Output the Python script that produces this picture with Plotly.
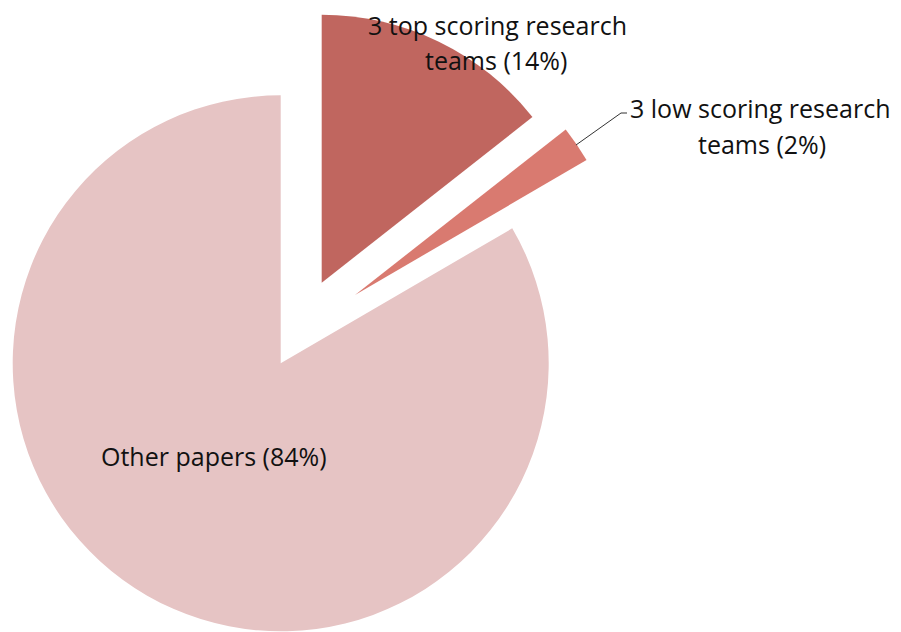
import plotly.graph_objects as go

# slice data, in drawing order (clockwise from 12 o'clock)
categories = ["3 top scoring research teams", "3 low scoring research teams", "Other papers"]
values = [14.4, 2.2, 83.4]
percents = ["14%", "2%", "84%"]
colors = ["#C0665F", "#D97A70", "#E6C4C4"]

W, H = 901, 632
R = 268  # pie radius in px
PAGE = 8  # default body margin of the html page

# exploded slice centres (px from top-left of the window)
centres = [(321.7, 282.7), (355.0, 295.0), (280.7, 363.3)]


def px(x):
    return (x - PAGE) / W


def py(y):
    return 1 - (y - PAGE) / H


def domain(cx, cy):
    cx, cy = cx - PAGE, cy - PAGE
    return dict(x=[(cx - R) / W, (cx + R) / W], y=[(H - cy - R) / H, (H - cy + R) / H])


fig = go.Figure()
for i, (cx, cy) in enumerate(centres):
    cols = ["rgba(0,0,0,0)"] * len(values)
    cols[i] = colors[i]
    fig.add_trace(
        go.Pie(
            labels=categories,
            values=values,
            sort=False,
            direction="clockwise",
            rotation=0,
            marker=dict(colors=cols, line=dict(width=0)),
            textinfo="none",
            hoverinfo="label+percent",
            domain=domain(cx, cy),
            showlegend=False,
        )
    )

font = dict(family="Open Sans, Lato, sans-serif", size=25, color="#111111")


def add_text(text, x, y):
    fig.add_annotation(
        text=text, x=px(x), y=py(y), xref="paper", yref="paper",
        xanchor="center", yanchor="middle", showarrow=False, font=font,
    )


def split_label(name):
    words = name.split(" ")
    return " ".join(words[:-1]), words[-1]


top1, top2 = split_label(categories[0])
add_text(top1, 497, 25)
add_text(f"{top2} ({percents[0]})", 496, 60)

low1, low2 = split_label(categories[1])
add_text(low1, 760, 108.5)
add_text(f"{low2} ({percents[1]})", 762, 144)

add_text(f"{categories[2]} ({percents[2]})", 214, 456)

# leader line for the small slice
fig.add_shape(
    type="path", xref="paper", yref="paper",
    path=f"M {px(576)},{py(145)} L {px(621)},{py(113)} L {px(627)},{py(113)}",
    line=dict(color="#333333", width=1),
)

fig.update_layout(
    width=W, height=H,
    margin=dict(l=0, r=0, t=0, b=0),
    paper_bgcolor="white",
    plot_bgcolor="white",
)

fig.write_html("out.html")
